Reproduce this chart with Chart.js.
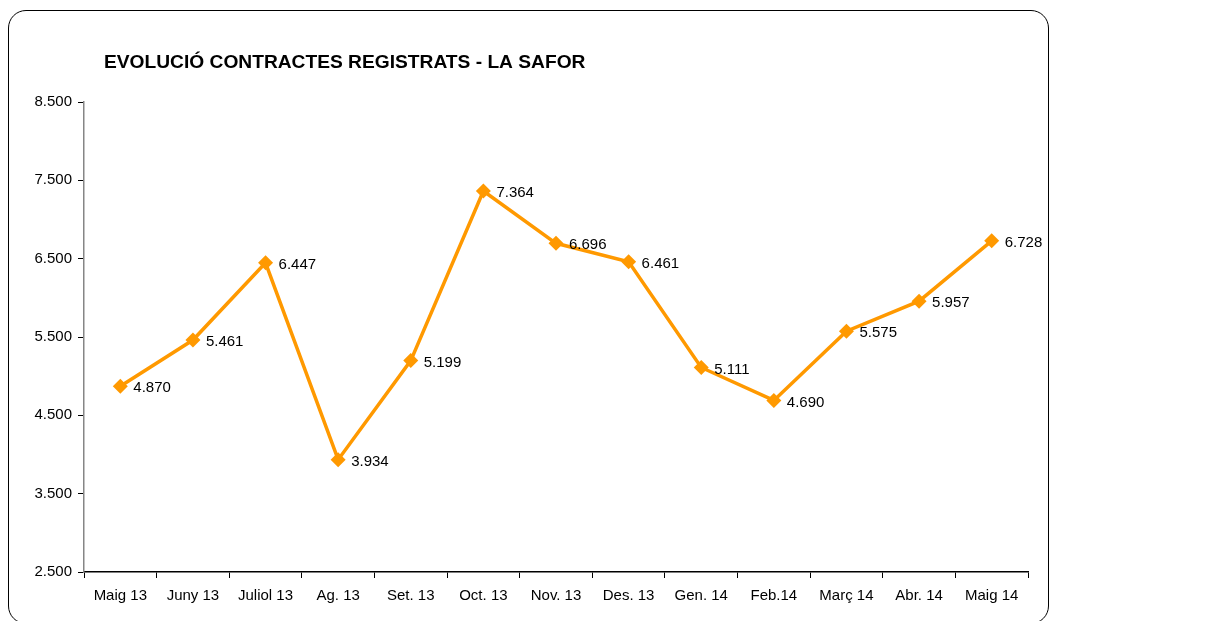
<!DOCTYPE html>
<html>
<head>
<meta charset="utf-8">
<script src="https://cdn.jsdelivr.net/npm/chart.js@4/dist/chart.umd.min.js"></script>
<style>
  html, body { margin: 0; padding: 0; background: #fff; }
  #wrap { position: relative; width: 1229px; height: 621px; overflow: hidden; }
  #frame {
    position: absolute; left: 8px; top: 10px; width: 1039px; height: 612px;
    border: 1.5px solid #000; border-radius: 18px;
  }
  canvas { position: absolute; left: 0; top: 0; }
</style>
</head>
<body>
<div id="wrap">
  <div id="frame"></div>
  <canvas id="myChart" width="1229" height="621"></canvas>
</div>
<script>
var title = "EVOLUCIÓ CONTRACTES REGISTRATS - LA SAFOR";
var months = [
  "Maig 13", "Juny 13", "Juliol 13", "Ag. 13", "Set. 13", "Oct. 13", "Nov. 13",
  "Des. 13", "Gen. 14", "Feb.14", "Març 14", "Abr. 14", "Maig 14",
];
var contracts = [4870, 5461, 6447, 3934, 5199, 7364, 6696, 6461, 5111, 4690, 5575, 5957, 6728];
var yMin = 2500;
var yMax = 8500;
var yStep = 1000;

function fmt(v) {
  // thousands with a dot, like 4.870
  return String(Math.round(v)).replace(/\B(?=(\d{3})+(?!\d))/g, ".");
}

var titlePlugin = {
  id: "titleText",
  afterDraw: function (chart) {
    var c = chart.ctx;
    c.save();
    c.fillStyle = "#000";
    c.font = "bold 19.2px 'Liberation Sans', Arial, sans-serif";
    c.textBaseline = "alphabetic";
    c.fillText(title, 104, 68);
    c.restore();
  },
};

var labelPlugin = {
  id: "pointLabels",
  afterDatasetsDraw: function (chart) {
    var c = chart.ctx;
    var meta = chart.getDatasetMeta(0);
    c.save();
    c.fillStyle = "#000";
    c.font = "15px 'Liberation Sans', Arial, sans-serif";
    c.textBaseline = "middle";
    meta.data.forEach(function (pt, i) {
      c.fillText(fmt(contracts[i]), pt.x + 13, pt.y + 2);
    });
    c.restore();
  },
};

var ctx = document.getElementById("myChart").getContext("2d");
var myChart = new Chart(ctx, {
  type: "line",
  data: {
    labels: months,
    datasets: [
      {
        data: contracts,
        borderColor: "#ff9900",
        backgroundColor: "#ff9900",
        borderWidth: 3.5,
        pointStyle: "rectRot",
        pointRadius: 7.5,
        pointBorderWidth: 0,
        pointBackgroundColor: "#ff9900",
        fill: false,
        tension: 0,
      },
    ],
  },
  options: {
    responsive: false,
    animation: false,
    layout: { padding: { left: 0, right: 201, top: 102, bottom: 0 } },
    plugins: {
      legend: { display: false },
      tooltip: { enabled: false },
      title: { display: false },
    },
    scales: {
      x: {
        offset: true,
        grid: {
          offset: true,
          drawOnChartArea: false,
          drawTicks: true,
          tickLength: 6,
          color: "#000",
        },
        border: { color: "#000", width: 1.5 },
        ticks: {
          color: "#000",
          font: { family: "'Liberation Sans', Arial, sans-serif", size: 15 },
          padding: 9,
          maxRotation: 0,
          autoSkip: false,
        },
        afterFit: function (scale) {
          scale.height = 49;
        },
      },
      y: {
        min: yMin,
        max: yMax,
        grid: {
          drawOnChartArea: false,
          drawTicks: true,
          tickLength: 6,
          color: "#000",
        },
        border: { color: "#868686", width: 1.5 },
        ticks: {
          stepSize: yStep,
          color: "#000",
          font: { family: "'Liberation Sans', Arial, sans-serif", size: 15 },
          padding: 6,
          callback: function (v) {
            return fmt(v);
          },
        },
        afterFit: function (scale) {
          scale.width = 84;
        },
      },
    },
  },
  plugins: [titlePlugin, labelPlugin],
});
</script>
</body>
</html>
